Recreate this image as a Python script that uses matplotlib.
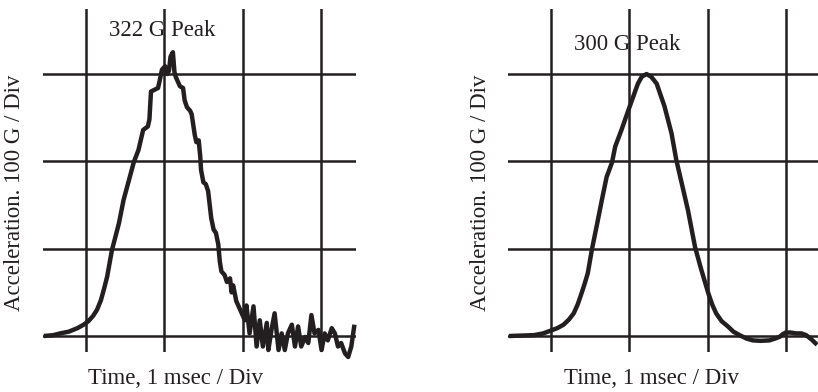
import matplotlib
matplotlib.use("Agg")
import matplotlib.pyplot as plt

# Left trace: measured (noisy) pulse, x in msec divisions, y in 100 G divisions
left_t = [0.46, 0.58, 0.67, 0.78, 0.89, 0.97, 1.03, 1.09, 1.14, 1.19, 1.23, 1.27, 1.33,
          1.42, 1.48, 1.55, 1.61, 1.67, 1.73,
          1.79, 1.81, 1.83, 1.92, 1.94, 1.97, 2.01, 2.04, 2.06, 2.08, 2.11, 2.13, 2.15,
          2.20, 2.24, 2.26, 2.29, 2.33, 2.35, 2.39, 2.41, 2.44, 2.46, 2.47, 2.50, 2.53,
          2.56, 2.60, 2.63, 2.66, 2.69, 2.71, 2.73, 2.77, 2.80, 2.84, 2.86, 2.88, 2.92,
          2.97, 3.03,
          3.05, 3.09, 3.14, 3.18, 3.22, 3.26, 3.31, 3.33, 3.37, 3.41, 3.46, 3.50, 3.54,
          3.58, 3.63, 3.67, 3.71, 3.75, 3.80, 3.84, 3.88, 3.92, 3.97, 4.01, 4.05, 4.09,
          4.14, 4.18, 4.22, 4.26, 4.31, 4.35, 4.39, 4.43]
left_g = [0.0, 0.01, 0.03, 0.05, 0.09, 0.13, 0.17, 0.23, 0.30, 0.41, 0.54, 0.68, 0.98,
          1.29, 1.56, 1.79, 1.99, 2.13, 2.36,
          2.40, 2.48, 2.80, 2.84, 2.92, 3.05, 3.09, 3.00, 3.04, 3.20, 3.25, 3.02, 2.96,
          2.86, 2.84, 2.70, 2.62, 2.58, 2.54, 2.30, 2.22, 2.24, 2.05, 1.90, 1.76, 1.74,
          1.66, 1.35, 1.22, 1.18, 1.05, 0.85, 0.74, 0.70, 0.62, 0.66, 0.50, 0.58, 0.40,
          0.30, 0.18,
          0.35, 0.03, 0.34, -0.12, 0.18, -0.12, 0.15, -0.16, 0.07, 0.26, -0.16, 0.03, -0.16,
          0.03, 0.13, -0.12, 0.11, -0.12, -0.01, -0.08, 0.24, 0.03, 0.07, -0.16, 0.03, -0.05,
          0.09, 0.03, -0.12, -0.08, -0.20, -0.24, -0.12, 0.13]

# Right trace: smooth half-sine-like pulse
right_t = [0.46, 0.62, 0.78, 0.90, 0.99, 1.08, 1.16, 1.23, 1.29, 1.34, 1.39, 1.43, 1.47,
           1.52, 1.59, 1.65, 1.71, 1.78, 1.82, 1.90, 1.99, 2.05, 2.11, 2.16, 2.22, 2.28,
           2.35, 2.45, 2.54, 2.60, 2.67, 2.75, 2.84, 2.92, 3.01, 3.06, 3.11, 3.18, 3.26,
           3.33, 3.41, 3.50, 3.58, 3.68, 3.79, 3.86, 3.92, 3.96, 4.00, 4.06, 4.13, 4.20,
           4.26, 4.33, 4.40]
right_g = [0.0, 0.005, 0.01, 0.03, 0.06, 0.09, 0.13, 0.19, 0.26, 0.36, 0.49, 0.60, 0.72,
           0.98, 1.29, 1.56, 1.82, 1.99, 2.17, 2.36, 2.59, 2.74, 2.89, 2.97, 3.00, 2.97,
           2.89, 2.63, 2.32, 2.02, 1.75, 1.44, 1.02, 0.76, 0.49, 0.36, 0.26, 0.17, 0.11,
           0.05, 0.01, -0.03, -0.05, -0.055, -0.05, -0.03, -0.01, 0.02, 0.04, 0.04, 0.03,
           0.03, 0.01, -0.04, -0.10]

titles = ["322 G Peak", "300 G Peak"]
xlabel = "Time, 1 msec / Div"
ylabel = "Acceleration. 100 G / Div"
grid_x = [1, 2, 3, 4]
grid_y = [0, 1, 2, 3]

plt.rcParams['font.family'] = ['Liberation Serif', 'DejaVu Serif']
INK = '#231f20'

fig = plt.figure(figsize=(8.18, 3.92), dpi=100)
axes = [fig.add_axes([43/818, 40/392, 313/818, 343/392]),
        fig.add_axes([508/818, 40/392, 313/818, 343/392])]

series = [(left_t, left_g), (right_t, right_g)]
title_pos = [(1.97, 3.50), (1.97, 3.34)]
label_x = [15, 480]
xlab_x = [175, 651]

for i, ax in enumerate(axes):
    ax.set_xlim(0.45, 4.45)
    ax.set_ylim(-0.183, 3.745)
    for s in ax.spines.values():
        s.set_visible(False)
    ax.set_xticks([])
    ax.set_yticks([])
    for gx in grid_x:
        ax.axvline(gx, color=INK, lw=1.8, zorder=1)
    for gy in grid_y:
        ax.axhline(gy, color=INK, lw=1.8, zorder=1)
    t, g = series[i]
    ax.plot(t, g, color=INK, lw=3.2, clip_on=False, zorder=3,
            solid_joinstyle='round', solid_capstyle='butt')
    ax.text(title_pos[i][0], title_pos[i][1], titles[i], ha='center', va='center',
            fontsize=16.5, color=INK, zorder=4)
    fig.text(label_x[i]/818, 1 - 193/392, ylabel, rotation=90, ha='center', va='center',
             fontsize=16.5, color=INK)
    fig.text(xlab_x[i]/818, 1 - 378/392, xlabel, ha='center', va='center',
             fontsize=16.5, color=INK)

fig.savefig("out.png", dpi=100)
